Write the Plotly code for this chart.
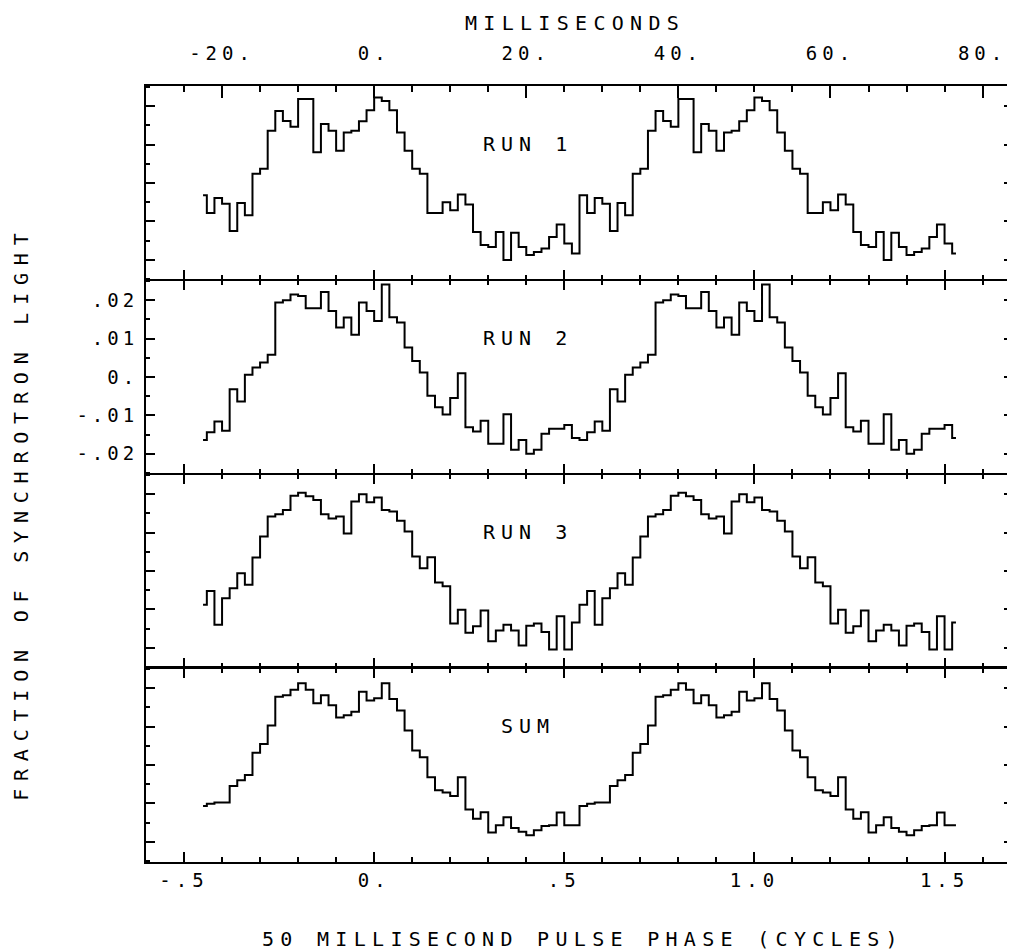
import plotly.graph_objects as go
from plotly.subplots import make_subplots

# Phase bin centres (cycles), 50 bins per 50 ms cycle, two cycles shown
phase = [round(-0.45 + 0.02 * k, 2) for k in range(100)]

# Fraction of synchrotron light per phase bin (one folded cycle, shown twice)
run1 = [-0.0032, -0.0078, -0.0039, -0.0054, -0.0125, -0.0052, -0.0084, 0.0024, 0.0037, 0.0136,
        0.0188, 0.0162, 0.0147, 0.0219, 0.0219, 0.0080, 0.0154, 0.0136, 0.0084, 0.0132,
        0.0136, 0.0161, 0.0190, 0.0223, 0.0214, 0.0190, 0.0132, 0.0084, 0.0037, 0.0024,
        -0.0078, -0.0078, -0.0050, -0.0071, -0.0030, -0.0056, -0.0128, -0.0162, -0.0167, -0.0128,
        -0.0201, -0.0130, -0.0167, -0.0188, -0.0180, -0.0171, -0.0141, -0.0108, -0.0158, -0.0184]
run2 = [-0.0164, -0.0144, -0.0116, -0.0140, -0.0032, -0.0064, 0.0006, 0.0025, 0.0038, 0.0058,
        0.0194, 0.0200, 0.0215, 0.0211, 0.0179, 0.0179, 0.0222, 0.0172, 0.0129, 0.0155,
        0.0110, 0.0194, 0.0172, 0.0146, 0.0241, 0.0156, 0.0142, 0.0077, 0.0042, 0.0012,
        -0.0049, -0.0079, -0.0098, -0.0055, 0.0010, -0.0131, -0.0142, -0.0114, -0.0174, -0.0174,
        -0.0097, -0.0190, -0.0164, -0.0200, -0.0190, -0.0148, -0.0135, -0.0135, -0.0125, -0.0159]
run3 = [-0.0088, -0.0052, -0.0140, -0.0071, -0.0045, -0.0006, -0.0036, 0.0035, 0.0090, 0.0142,
        0.0148, 0.0159, 0.0196, 0.0204, 0.0195, 0.0185, 0.0148, 0.0137, 0.0142, 0.0098,
        0.0181, 0.0200, 0.0179, 0.0192, 0.0159, 0.0155, 0.0131, 0.0103, 0.0038, 0.0007,
        0.0036, -0.0030, -0.0040, -0.0137, -0.0101, -0.0161, -0.0144, -0.0103, -0.0183, -0.0155,
        -0.0140, -0.0155, -0.0194, -0.0143, -0.0137, -0.0159, -0.0205, -0.0118, -0.0205, -0.0134]
total = [-0.0107, -0.0101, -0.0098, -0.0098, -0.0055, -0.0040, -0.0026, 0.0032, 0.0055, 0.0103,
         0.0178, 0.0182, 0.0196, 0.0213, 0.0196, 0.0161, 0.0182, 0.0156, 0.0124, 0.0130,
         0.0139, 0.0191, 0.0168, 0.0174, 0.0213, 0.0172, 0.0142, 0.0090, 0.0038, 0.0020,
         -0.0032, -0.0066, -0.0072, -0.0081, -0.0032, -0.0116, -0.0140, -0.0123, -0.0176, -0.0157,
         -0.0136, -0.0164, -0.0174, -0.0183, -0.0170, -0.0159, -0.0157, -0.0124, -0.0157, -0.0157]

panel_names = ["RUN 1", "RUN 2", "RUN 3", "SUM"]
series = [run1, run2, run3, total]

phase_ticks = [-0.5, 0.0, 0.5, 1.0, 1.5]
phase_labels = ["-.5", "0.", ".5", "1.0", "1.5"]
ms_ticks = [-20, 0, 20, 40, 60, 80]
ms_labels = ["-20.", "0.", "20.", "40.", "60.", "80."]
y_ticks = [0.02, 0.01, 0.0, -0.01, -0.02]
y_labels = [".02", ".01", "0.", "-.01", "-.02"]

FONT = "DejaVu Sans Mono"


def spaced(t, ls):
    return f'<span style="letter-spacing:{ls}px">{t}</span>'


fig = make_subplots(rows=4, cols=1, shared_xaxes=True, vertical_spacing=0)

for i, vals in enumerate(series):
    fig.add_trace(go.Scatter(x=phase, y=vals + vals, mode="lines",
                             line=dict(color="black", width=2, shape="hvh"),
                             hoverinfo="skip", showlegend=False), row=i + 1, col=1)

# empty trace so that the top millisecond axis is drawn
fig.add_trace(go.Scatter(x=[], y=[], xaxis="x5", yaxis="y", mode="lines",
                         hoverinfo="skip", showlegend=False))

XR = [-0.6, 1.68]
for i in range(4):
    xa = dict(range=XR, showline=True, linecolor="black",
              linewidth=(2 if i == 3 else 1),
              ticks="inside", ticklen=10, tickwidth=2, tickcolor="black",
              tickvals=phase_ticks, ticktext=[spaced(t, 5) for t in phase_labels],
              minor=dict(ticks="inside", ticklen=5, tickwidth=2, tickcolor="black",
                         dtick=0.1, tick0=0, showgrid=False),
              showgrid=False, zeroline=False,
              tickfont=dict(family=FONT, size=19, color="black"),
              mirror=(True if i == 0 else "ticks"),
              showticklabels=(i == 3))
    if i == 3:
        xa["ticklabelstandoff"] = 0
    fig.update_xaxes(row=i + 1, col=1, **xa)

    ya = dict(range=[-0.0253, 0.0253], showline=True, linecolor="black", linewidth=2,
              mirror="ticks", ticks="inside", ticklen=9, tickwidth=2, tickcolor="black",
              tickvals=y_ticks, ticktext=[spaced(t, 4) for t in y_labels],
              minor=dict(ticks="inside", ticklen=4, tickwidth=2, tickcolor="black",
                         dtick=0.005, tick0=0, showgrid=False),
              showgrid=False, zeroline=False,
              tickfont=dict(family=FONT, size=19, color="black"),
              showticklabels=(i == 1))
    if i == 1:
        ya["ticklabelstandoff"] = 2
    fig.update_yaxes(row=i + 1, col=1, **ya)

fig.update_layout(
    xaxis5=dict(overlaying="x", anchor="y", side="top",
                range=[XR[0] * 50, XR[1] * 50],
                tickvals=ms_ticks, ticktext=[spaced(t, 5) for t in ms_labels],
                ticks="inside", ticklen=12, tickwidth=2, tickcolor="black",
                minor=dict(ticks="inside", ticklen=6, tickwidth=2, tickcolor="black",
                           dtick=5, tick0=0, showgrid=False),
                showline=True, linewidth=2, linecolor="black",
                showgrid=False, zeroline=False, ticklabelstandoff=16,
                tickfont=dict(family=FONT, size=19, color="black")),
)

annotations = []
for i, name in enumerate(panel_names):
    yref = "y" if i == 0 else f"y{i + 1}"
    xref = "x" if i == 0 else f"x{i + 1}"
    annotations.append(dict(text=spaced(name, 6), x=0.405, y=0.70, xref=xref,
                            yref=f"{yref} domain", showarrow=False,
                            font=dict(family=FONT, size=20, color="black"),
                            xanchor="center", yanchor="middle"))

annotations.append(dict(text=spaced("MILLISECONDS", 6.3), x=0.495, y=1.081,
                        xref="paper", yref="paper", showarrow=False,
                        font=dict(family=FONT, size=20, color="black"),
                        xanchor="center", yanchor="middle"))
annotations.append(dict(text=spaced("50 MILLISECOND PULSE PHASE (CYCLES)", 6.3), x=0.504, y=-0.099,
                        xref="paper", yref="paper", showarrow=False,
                        font=dict(family=FONT, size=20, color="black"),
                        xanchor="center", yanchor="middle"))
annotations.append(dict(text=spaced("FRACTION OF SYNCHROTRON LIGHT", 7.8), x=-0.145, y=0.449,
                        xref="paper", yref="paper", showarrow=False, textangle=-90,
                        font=dict(family=FONT, size=20, color="black"),
                        xanchor="center", yanchor="middle"))

# the page body adds an 8 px margin, so the figure is drawn 8 px smaller
fig.update_layout(
    width=1007, height=942,
    margin=dict(l=138, r=0, t=78, b=88),
    paper_bgcolor="white", plot_bgcolor="white",
    annotations=annotations,
    showlegend=False,
)

fig.write_html("out.html")
